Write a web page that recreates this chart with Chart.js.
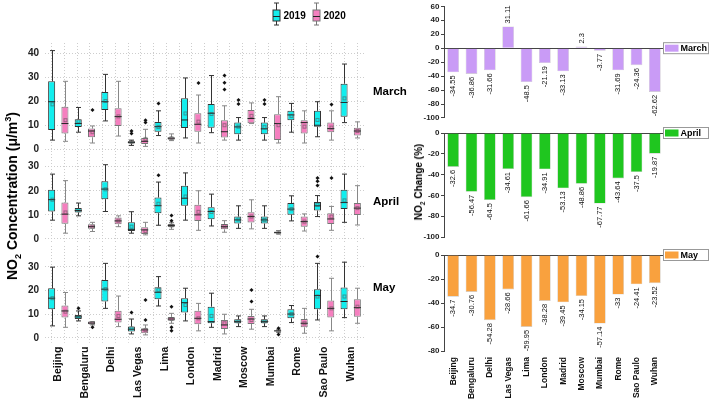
<!DOCTYPE html>
<html>
<head>
<meta charset="utf-8">
<script src="https://cdn.jsdelivr.net/npm/chart.js@4.4.1/dist/chart.umd.min.js"></script>
<style>
  html, body { margin: 0; padding: 0; background: #fff; }
  #wrap { position: relative; width: 710px; height: 402px; overflow: hidden; font-family: "Liberation Sans", Arial, sans-serif; }
  #wrap canvas { position: absolute; left: 0; top: 0; }
  .ytitle { position: absolute; font-weight: bold; color: #000; white-space: nowrap; line-height: 1;
            transform: translate(-50%, -50%) rotate(-90deg); }
  .ytitle sub, .ytitle sup { font-size: 0.65em; line-height: 0; }
</style>
</head>
<body>
<div id="wrap">
  <canvas id="boxMarch" width="710" height="402"></canvas>
  <canvas id="boxApril" width="710" height="402"></canvas>
  <canvas id="boxMay" width="710" height="402"></canvas>
  <canvas id="chgMarch" width="710" height="402"></canvas>
  <canvas id="chgApril" width="710" height="402"></canvas>
  <canvas id="chgMay" width="710" height="402"></canvas>
  <div class="ytitle" style="left:12px; top:196px; font-size:14px;">NO<sub>2</sub> Concentration (μ/m<sup>3</sup>)</div>
  <div class="ytitle" style="left:419px; top:182px; font-size:10px;">NO<sub>2</sub> Change (%)</div>
</div>
<script>
// ---- data -------------------------------------------------------------
const cities = ['Beijing', 'Bengaluru', 'Delhi', 'Las Vegas', 'Lima', 'London',
                'Madrid', 'Moscow', 'Mumbai', 'Rome', 'Sao Paulo', 'Wuhan'];
const years = ['2019', '2020'];

// box stats per city: [min, q1, median, q3, max, mean]
const march2019 = [
  [3.7, 7.9, 19.7, 28.2, 41, 18.6], [7, 9.2, 10.6, 12.4, 17.3, 11.5], [11.7, 16.3, 19.7, 23.7, 31.1, 20],
  [1.5, 2.3, 2.8, 3.2, 3.7, 2.9], [5.6, 7.2, 9.3, 11.3, 15.9, 9.2], [4.6, 8.7, 12.1, 21.1, 29.6, 14.8],
  [6.8, 8.9, 14.9, 18.7, 30.6, 14.6], [3.7, 6.1, 9.2, 11, 13.1, 9.3], [3.7, 6.1, 8.4, 11, 13.1, 9.1],
  [7, 12, 14.2, 15.9, 19, 13.8], [5.1, 9.3, 9.9, 15.9, 19.7, 12.1], [11, 13.4, 19.4, 27.2, 35.4, 21.1]
];
const march2020 = [
  [3.2, 6.5, 10.6, 17.6, 28.2, 12], [2.5, 4.9, 7.5, 8.5, 9.6, 7], [5.4, 9.6, 13.5, 17, 28.2, 13.6],
  [1.1, 2.1, 3.2, 4.6, 8.2, 4.2], [3.5, 3.9, 4.5, 4.9, 6.3, 4.5], [2.5, 7.2, 10.3, 14.9, 22.5, 11.4],
  [3.7, 4.8, 7.2, 12, 18, 9.9], [10.6, 10.7, 12.7, 16.2, 19.2, 13.8], [2.5, 3.7, 10.6, 14.5, 21.8, 9.9],
  [2.5, 6.5, 11, 12, 15.9, 9.3], [3.7, 7, 8.5, 11, 15.9, 8.9], [4.6, 5.6, 7.5, 8.9, 11.3, 7.5]
];
const april2019 = [
  [7.8, 11.4, 16.3, 20.4, 26.9, 16.3], [9.6, 11, 11.8, 12.8, 14.9, 11.9], [11.4, 16.5, 20.7, 23.9, 30.8, 20.6],
  [2.4, 3.3, 4, 6.9, 11.3, 5.1], [5.7, 10.7, 13.8, 17.2, 23.6, 14.6], [7.8, 13.75, 16.9, 22.1, 27.4, 17.6],
  [5.4, 8.2, 11.4, 13.2, 18.6, 11.2], [4.4, 6.4, 7.9, 9.3, 13.75, 8.1], [4.4, 6.4, 7.9, 9.3, 13.75, 7.9],
  [7.5, 10, 12.4, 14.9, 17.9, 12.4], [9.3, 11.8, 13.75, 15.3, 18, 14.2], [6.9, 12.4, 15.1, 20.4, 26.9, 16]
];
const april2020 = [
  [2.4, 6.3, 10.3, 15.1, 24.2, 11], [3.1, 4.2, 5.1, 6.1, 6.9, 5.1], [5.1, 6.1, 7.5, 8.9, 9.6, 7.6],
  [1.7, 2.1, 3.75, 4.9, 6.9, 3.3], [4, 5, 5.6, 6.25, 6.8, 5.6], [3.6, 7.5, 10, 14.2, 20, 11.25],
  [2.8, 4, 5.1, 6.25, 7.6, 5.3], [4.2, 6.8, 9.3, 11.1, 16.25, 9.3], [2.1, 2.4, 2.6, 3.05, 3.5, 2.6],
  [3.3, 5.1, 7.2, 9.3, 10.4, 7.2], [3.6, 6.25, 8.3, 10.7, 13.5, 9.3], [5.8, 9.9, 12.8, 14.9, 22.1, 12.8]
];
const may2019 = [
  [5.1, 12.1, 16.8, 21, 29.9, 16.8], [7.2, 8, 8.9, 9.7, 11.4, 8.9], [12.5, 15.4, 20.6, 24.5, 31.5, 20.6],
  [1.7, 2.7, 3.7, 4.8, 8, 4.1], [13.5, 16.3, 19.3, 21.4, 25.9, 20.3], [7.2, 10.7, 14.9, 16.8, 21, 13.9],
  [4.5, 6.2, 6.9, 13.2, 18.9, 9.3], [4.8, 6.2, 7, 7.9, 9.3, 7], [4.8, 6.2, 7, 7.9, 9.3, 7],
  [6.5, 8.3, 10.1, 12.1, 13.7, 10.1], [7.6, 12.1, 17.9, 20.6, 31.5, 17.5], [8.6, 12.1, 15.4, 21.3, 32, 17.5]
];
const may2020 = [
  [4.5, 8.6, 11.4, 13.7, 19.2, 11.1], [5.5, 5.8, 6.3, 6.9, 6.9, 6.3], [4.8, 6.5, 7.9, 11.5, 17.7, 9.3],
  [1.3, 2, 3.4, 4.1, 5.5, 3.4], [6.2, 7.3, 8, 8.9, 10.4, 8], [3, 5.8, 8.3, 11.5, 14.6, 8.3],
  [1.7, 3.8, 5.5, 7.6, 10, 6.2], [3.7, 5.9, 8, 9.3, 12.1, 7.6], [2.4, 2.7, 3, 3.1, 3.4, 3],
  [2, 4.5, 6.2, 8, 12.5, 6.2], [3, 8.6, 12.5, 15.8, 25.2, 12.5], [6.2, 9, 12.8, 16.3, 21, 13.2]
];

// outliers per city
const marchOut2019 = [[], [], [], [6.5, 7.5], [19], [], [], [18.7, 20.4], [18.7, 20.4], [], [], []];
const marchOut2020 = [[], [16.2], [], [11, 12], [], [27.5], [24.8, 27.6, 30.6], [], [], [], [18.5], []];
const aprilOut2019 = [[], [], [], [], [26.4], [], [], [], [], [], [22.2, 23.9, 25.3], []];
const aprilOut2020 = [[], [], [], [], [7.6, 9.7], [], [], [], [], [], [25.3], []];
const mayOut2019 = [[], [12.5], [], [10.8], [], [], [], [], [], [], [34.4], []];
const mayOut2020 = [[], [4.5], [], [7.6, 16], [3, 4.5, 13.2], [], [], [15.4, 20.3], [1.5, 4.1], [], [], []];

const marchTicks = [0, 10, 20, 30, 40];
const aprilTicks = [0, 10, 20, 30];
const mayTicks = [0, 10, 20, 30];

// NO2 change (%)
const marchChange = [-34.55, -36.86, -31.66, 31.11, -48.5, -21.19, -33.13, 2.3, -3.77, -31.69, -24.36, -62.62];
const aprilChange = [-32.6, -56.47, -64.5, -34.61, -61.66, -34.91, -53.13, -48.86, -67.77, -43.64, -37.5, -19.87];
const mayChange = [-34.7, -30.76, -54.28, -28.66, -59.95, -38.28, -39.45, -34.15, -57.14, -33, -24.41, -23.52];

const marchChangeTicks = [60, 40, 20, 0, -20, -40, -60, -80, -100];
const aprilChangeTicks = [0, -20, -40, -60, -80, -100];
const mayChangeTicks = [0, -20, -40, -60, -80];

// ---- style ------------------------------------------------------------
const FONT = '"Liberation Sans", Arial, sans-serif';
Chart.defaults.font.family = FONT;
const CYAN = '#12EEEE';
const PINK = '#F57FBF';
const W = 710, H = 402;

// whiskers, medians, means and outliers on top of the floating-bar boxes
const boxParts = {
  id: 'boxParts',
  afterDatasetsDraw(chart) {
    const ctx = chart.ctx;
    const y = chart.scales.y;
    chart.data.datasets.forEach((ds, d) => {
      chart.getDatasetMeta(d).data.forEach((bar, i) => {
        const [lo, q1, med, q3, hi, mean] = ds.stats[i];
        const x = Math.round(bar.x) + 0.5;
        const hw = bar.width / 2;
        ctx.save();
        ctx.lineWidth = 1;
        ctx.strokeStyle = ds.whisker;
        ctx.beginPath();
        ctx.moveTo(x, y.getPixelForValue(hi)); ctx.lineTo(x, y.getPixelForValue(q3));
        ctx.moveTo(x, y.getPixelForValue(q1)); ctx.lineTo(x, y.getPixelForValue(lo));
        ctx.moveTo(x - 2.5, y.getPixelForValue(hi)); ctx.lineTo(x + 2.5, y.getPixelForValue(hi));
        ctx.moveTo(x - 2.5, y.getPixelForValue(lo)); ctx.lineTo(x + 2.5, y.getPixelForValue(lo));
        ctx.stroke();
        ctx.strokeStyle = '#222';
        ctx.beginPath();
        ctx.moveTo(bar.x - hw, y.getPixelForValue(med)); ctx.lineTo(bar.x + hw, y.getPixelForValue(med));
        ctx.stroke();
        ctx.strokeStyle = 'rgba(80,80,80,0.55)';
        ctx.strokeRect(x - 1.5, y.getPixelForValue(mean) - 1.5, 3, 3);
        ctx.fillStyle = '#111';
        ds.outliers[i].forEach(v => {
          const py = y.getPixelForValue(v);
          ctx.beginPath();
          ctx.moveTo(x, py - 2); ctx.lineTo(x + 2, py); ctx.lineTo(x, py + 2); ctx.lineTo(x - 2, py);
          ctx.closePath();
          ctx.fill();
        });
        ctx.restore();
      });
    });
  }
};

const monthLabel = {
  id: 'monthLabel',
  afterDraw(chart, args, opts) {
    const ctx = chart.ctx;
    ctx.save();
    ctx.font = 'bold 11.5px ' + FONT;
    ctx.fillStyle = '#000';
    ctx.textBaseline = 'middle';
    ctx.fillText(opts.text, chart.chartArea.right + 9, opts.y);
    ctx.restore();
  }
};

// box-plot legend at the top of the left figure
const yearLegend = {
  id: 'yearLegend',
  afterDraw(chart, args, opts) {
    if (!opts.show) return;
    const ctx = chart.ctx;
    const items = [[276.5, CYAN, '#333', years[0]], [316.5, PINK, '#777', years[1]]];
    ctx.save();
    items.forEach(([x, fill, edge, text]) => {
      ctx.lineWidth = 1;
      ctx.strokeStyle = edge;
      ctx.beginPath();
      ctx.moveTo(x, 3); ctx.lineTo(x, 25);
      ctx.moveTo(x - 2.5, 3); ctx.lineTo(x + 2.5, 3);
      ctx.moveTo(x - 2.5, 25); ctx.lineTo(x + 2.5, 25);
      ctx.stroke();
      ctx.fillStyle = fill;
      ctx.fillRect(x - 3.5, 10, 7, 11);
      ctx.strokeRect(x - 3.5, 10, 7, 11);
      ctx.strokeStyle = '#222';
      ctx.beginPath();
      ctx.moveTo(x - 3.5, 16.5); ctx.lineTo(x + 3.5, 16.5);
      ctx.stroke();
      ctx.fillStyle = '#000';
      ctx.font = 'bold 10px ' + FONT;
      ctx.textBaseline = 'middle';
      ctx.fillText(text, x + 7, 16);
    });
    ctx.restore();
  }
};

function boxPanel(id, month, s19, s20, o19, o20, ticks, yMin, yMax, top, bottom, monthY, withLabels) {
  const gridPos = Array.from({ length: cities.length * 2 }, (_, i) => i);
  new Chart(document.getElementById(id), {
    type: 'bar',
    data: {
      labels: cities,
      datasets: [
        { label: years[0], data: s19.map(s => [s[1], s[3]]), stats: s19, outliers: o19,
          backgroundColor: CYAN, borderColor: '#333', borderWidth: 1, borderSkipped: false,
          whisker: '#333', xAxisID: 'x', yAxisID: 'y' },
        { label: years[1], data: s20.map(s => [s[1], s[3]]), stats: s20, outliers: o20,
          backgroundColor: PINK, borderColor: '#777', borderWidth: 1, borderSkipped: false,
          whisker: '#888', xAxisID: 'x', yAxisID: 'y' }
      ]
    },
    options: {
      responsive: false,
      animation: false,
      events: [],
      layout: { padding: { left: 0, right: W - 364, top: top, bottom: withLabels ? 0 : H - bottom } },
      datasets: { bar: { barPercentage: 0.53, categoryPercentage: 1 } },
      plugins: {
        legend: { display: false },
        tooltip: { enabled: false },
        monthLabel: { text: month, y: monthY },
        yearLegend: { show: month === 'March' }
      },
      scales: {
        x: {
          display: withLabels,
          grid: { display: false, drawTicks: false },
          border: { display: false },
          ticks: { autoSkip: false, minRotation: 90, maxRotation: 90, padding: 4, color: '#111',
                   font: { size: 10.5, weight: 'bold' } },
          afterFit: s => { if (withLabels) s.height = H - bottom; }
        },
        xg: {
          type: 'linear', axis: 'x', position: 'top', min: -0.5, max: 23.5,
          afterBuildTicks: s => { s.ticks = gridPos.map(v => ({ value: v })); },
          ticks: { display: false },
          grid: { color: '#cdcdcd', drawTicks: false },
          border: { display: false, dash: [1, 2] },
          afterFit: s => { s.height = 0; }
        },
        y: {
          min: yMin, max: yMax,
          afterBuildTicks: s => { s.ticks = ticks.map(v => ({ value: v })); },
          afterFit: s => { s.width = 45; },
          ticks: { color: '#222', padding: 6, font: { size: 10, weight: 'bold' } },
          grid: { color: '#cdcdcd', drawTicks: false },
          border: { display: false, dash: [1, 2] }
        }
      }
    },
    plugins: [boxParts, monthLabel, yearLegend]
  });
}

// value labels and legend key for the change bars
const barValues = {
  id: 'barValues',
  afterDatasetsDraw(chart) {
    const ctx = chart.ctx;
    const ds = chart.data.datasets[0];
    ctx.save();
    ctx.font = '7.5px ' + FONT;
    ctx.fillStyle = '#111';
    ctx.textBaseline = 'middle';
    chart.getDatasetMeta(0).data.forEach((bar, i) => {
      const v = ds.data[i];
      ctx.save();
      ctx.translate(bar.x, v < 0 ? bar.y + 3 : bar.y - 3);
      ctx.rotate(-Math.PI / 2);
      ctx.textAlign = v < 0 ? 'right' : 'left';
      ctx.fillText(String(v), 0, 0);
      ctx.restore();
    });
    ctx.restore();
  }
};

const monthKey = {
  id: 'monthKey',
  afterDraw(chart, args, opts) {
    const ctx = chart.ctx;
    const y0 = chart.scales.y.getPixelForValue(0);
    ctx.save();
    ctx.fillStyle = '#fff';
    ctx.fillRect(663.5, y0 - 5.5, 45, 11);
    ctx.strokeStyle = '#999';
    ctx.lineWidth = 1;
    ctx.strokeRect(663.5, y0 - 5.5, 45, 11);
    ctx.fillStyle = opts.color;
    ctx.fillRect(665, y0 - 3.5, 13.5, 7);
    ctx.fillStyle = '#000';
    ctx.font = 'bold 9px ' + FONT;
    ctx.textBaseline = 'middle';
    ctx.fillText(opts.text, 680.5, y0 + 0.5);
    ctx.restore();
  }
};

function changePanel(id, month, values, color, ticks, yMin, yMax, top, bottom, withLabels) {
  new Chart(document.getElementById(id), {
    type: 'bar',
    data: {
      labels: cities,
      datasets: [{ label: month, data: values, backgroundColor: color,
                   borderColor: 'rgba(0,0,0,0.22)', borderWidth: 0.6 }]
    },
    options: {
      responsive: false,
      animation: false,
      events: [],
      layout: { padding: { left: 0, right: W - 664, top: top, bottom: withLabels ? 0 : H - bottom } },
      datasets: { bar: { barPercentage: 0.64, categoryPercentage: 1 } },
      plugins: {
        legend: { display: false },
        tooltip: { enabled: false },
        monthKey: { text: month, color: color }
      },
      scales: {
        x: {
          display: withLabels,
          grid: { display: false, drawTicks: false },
          border: { display: false },
          ticks: { autoSkip: false, minRotation: 90, maxRotation: 90, padding: 6, color: '#111',
                   font: { size: 8.5, weight: 'bold' } },
          afterFit: s => { if (withLabels) s.height = H - bottom; }
        },
        y: {
          min: yMin, max: yMax,
          afterBuildTicks: s => { s.ticks = ticks.map(v => ({ value: v })); },
          afterFit: s => { s.width = 444; },
          ticks: { color: '#222', padding: 1.5, font: { size: 8, weight: 'bold' } },
          grid: { color: c => c.tick && c.tick.value === 0 ? '#444' : 'rgba(0,0,0,0)',
                  tickColor: '#444', tickLength: 3 },
          border: { display: true, color: '#444', width: 1 }
        }
      }
    },
    plugins: [barValues, monthKey]
  });
}

// ---- panels -----------------------------------------------------------
boxPanel('boxMarch', 'March', march2019, march2020, marchOut2019, marchOut2020, marchTicks, -3, 44, 43.4, 156.2, 91.5, false);
boxPanel('boxApril', 'April', april2019, april2020, aprilOut2019, aprilOut2020, aprilTicks, -2, 34, 157, 243.8, 201.5, false);
boxPanel('boxMay', 'May', may2019, may2020, mayOut2019, mayOut2020, mayTicks, -2, 39, 245.6, 342.7, 288, true);

changePanel('chgMarch', 'March', marchChange, '#C99BF6', marchChangeTicks, -100, 60, 5, 118, false);
changePanel('chgApril', 'April', aprilChange, '#1FC61F', aprilChangeTicks, -100, 0, 133, 237, false);
changePanel('chgMay', 'May', mayChange, '#F9A13E', mayChangeTicks, -80, 0, 255, 351, true);
</script>
</body>
</html>
